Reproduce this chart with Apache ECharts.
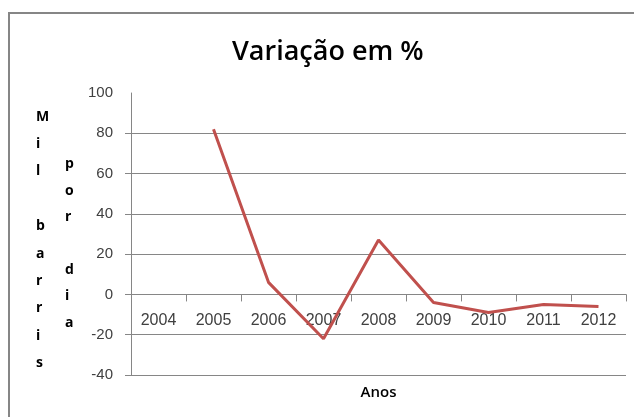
<!DOCTYPE html>
<html>
<head>
<meta charset="utf-8">
<script src="https://cdn.jsdelivr.net/npm/echarts@6/dist/echarts.min.js"></script>
<style>
  html, body { margin: 0; padding: 0; background: #fff; }
  #chart { width: 634px; height: 417px; }
</style>
</head>
<body>
<div id="chart"></div>
<script>
// dados
const anos = ['2004', '2005', '2006', '2007', '2008', '2009', '2010', '2011', '2012'];
const variacao = [null, 82, 6, -22, 27, -4, -9, -5, -6];
const yTicks = [-40, -20, 0, 20, 40, 60, 80];

const gray = '#868686';
const textColor = '#404040';
const font = 'Liberation Sans';

const chart = echarts.init(document.getElementById('chart'));

const option = {
  animation: false,
  title: {
    text: 'Variação em %',
    left: 227,
    top: 34,
    textStyle: { fontFamily: 'Open Sans', fontSize: 27, fontWeight: 600, color: '#000' }
  },
  grid: { left: 131, right: 8, top: 93, bottom: 42, containLabel: false, outerBoundsMode: 'none' },
  xAxis: {
    type: 'category',
    data: anos,
    boundaryGap: true,
    name: 'Anos',
    nameLocation: 'middle',
    nameGap: 10,
    nameTextStyle: { fontFamily: 'Open Sans', fontSize: 15, fontWeight: 600, color: '#000' },
    axisLine: { onZero: true, lineStyle: { color: gray, width: 1 } },
    axisTick: { show: true, alignWithLabel: false, length: 7, inside: false, lineStyle: { color: gray } },
    // rótulos ficam logo abaixo da linha do zero
    axisLabel: { inside: true, margin: 46, fontFamily: font, fontSize: 16, color: textColor }
  },
  yAxis: {
    type: 'value',
    min: -40,
    max: 100,
    interval: 20,
    axisLine: { show: true, lineStyle: { color: gray, width: 1 } },
    axisTick: { show: true, length: 6, customValues: yTicks, lineStyle: { color: gray } },
    axisLabel: { margin: 18, fontFamily: font, fontSize: 15, color: textColor },
    splitLine: {
      show: true,
      lineStyle: { color: [gray, gray, gray, gray, gray, gray, gray, 'transparent'], width: 1 }
    }
  },
  graphic: [
    {
      type: 'rect',
      shape: { x: 9, y: 13, width: 800, height: 600 },
      style: { fill: 'none', stroke: gray, lineWidth: 2 },
      silent: true
    },
    {
      type: 'text',
      left: 36,
      top: 103,
      style: {
        text: 'M\ni\nl\n\nb\na\nr\nr\ni\ns',
        font: 'bold 14px "Open Sans"',
        fill: '#000',
        lineHeight: 27.4,
        align: 'center'
      }
    },
    {
      type: 'text',
      left: 65,
      top: 151,
      style: {
        text: 'p\no\nr\n\nd\ni\na',
        font: 'bold 14px "Open Sans"',
        fill: '#000',
        lineHeight: 26.4,
        align: 'center'
      }
    }
  ],
  series: [
    {
      name: 'Variação',
      type: 'line',
      data: variacao,
      symbol: 'none',
      lineStyle: { color: '#C0504D', width: 3 },
      itemStyle: { color: '#C0504D' }
    }
  ]
};

chart.setOption(option);
</script>
</body>
</html>
